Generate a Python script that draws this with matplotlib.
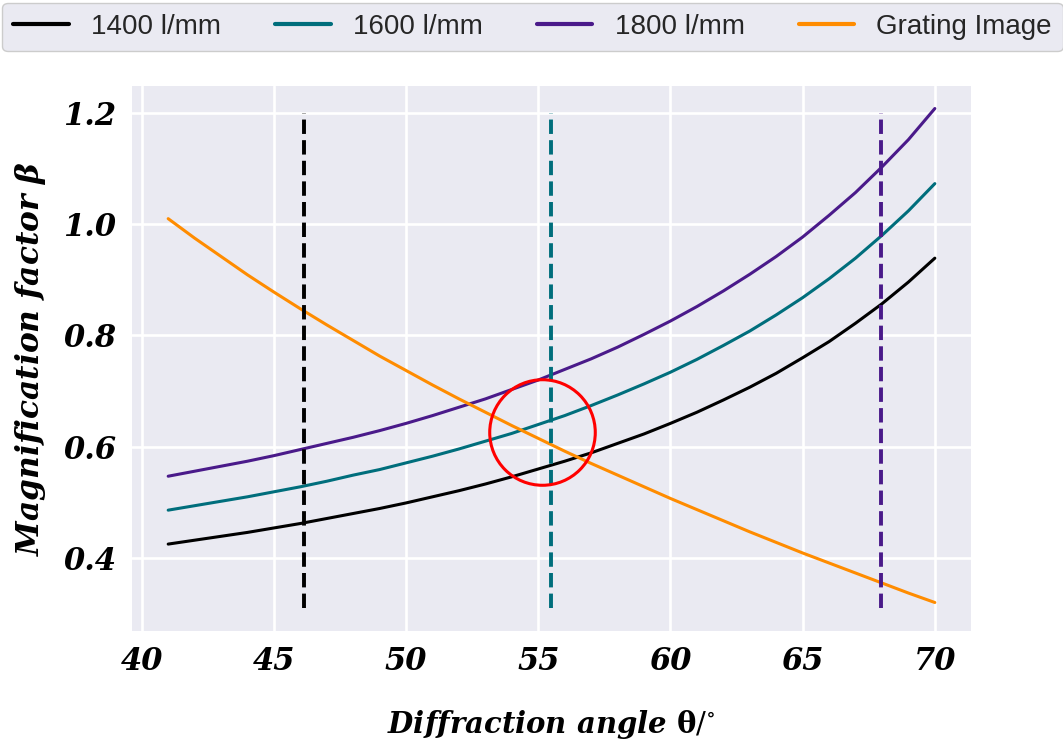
"""Factor de magnificación vs ángulo de difracción para tres redes."""

from __future__ import annotations

import matplotlib

matplotlib.use("Agg")
import matplotlib.pyplot as plt

# ángulos de difracción (grados)
theta = [41, 42, 43, 44, 45, 46, 47, 48, 49, 50,
         51, 52, 53, 54, 55, 56, 57, 58, 59, 60,
         61, 62, 63, 64, 65, 66, 67, 68, 69, 70]

beta_1400 = [0.425, 0.432, 0.439, 0.446, 0.454, 0.462, 0.471, 0.480, 0.489, 0.499,
             0.510, 0.521, 0.533, 0.546, 0.560, 0.574, 0.589, 0.606, 0.623, 0.642,
             0.662, 0.684, 0.707, 0.732, 0.760, 0.789, 0.822, 0.857, 0.896, 0.939]

beta_1600 = [0.486, 0.494, 0.502, 0.510, 0.519, 0.528, 0.538, 0.549, 0.559, 0.571,
             0.583, 0.596, 0.610, 0.624, 0.640, 0.656, 0.674, 0.693, 0.713, 0.734,
             0.757, 0.782, 0.808, 0.837, 0.868, 0.902, 0.939, 0.980, 1.024, 1.073]

beta_1800 = [0.547, 0.556, 0.565, 0.574, 0.584, 0.595, 0.606, 0.617, 0.629, 0.642,
             0.656, 0.671, 0.686, 0.703, 0.720, 0.739, 0.758, 0.779, 0.802, 0.826,
             0.852, 0.880, 0.910, 0.942, 0.977, 1.016, 1.057, 1.103, 1.152, 1.208]

grating_image = [1.010, 0.975, 0.942, 0.909, 0.878, 0.848, 0.819, 0.791, 0.763, 0.737,
                 0.711, 0.686, 0.662, 0.638, 0.615, 0.592, 0.570, 0.549, 0.528, 0.507,
                 0.487, 0.467, 0.447, 0.428, 0.409, 0.391, 0.373, 0.355, 0.337, 0.320]

labels = ["1400 l/mm", "1600 l/mm", "1800 l/mm", "Grating Image"]
colors = ["black", "#006e7c", "#4a1a8a", "#ff8c00"]

# ángulo de operación de cada red (líneas verticales)
theta_op = [46.13, 55.47, 67.95]
vline_span = (0.31, 1.2)

# zona de cruce marcada
cross_x = 55.15
cross_y = 0.626

xticks = [40, 45, 50, 55, 60, 65, 70]
yticks = [0.4, 0.6, 0.8, 1.0, 1.2]


def main() -> None:
    plt.style.use("seaborn-v0_8-darkgrid")
    plt.rcParams["mathtext.fontset"] = "dejavuserif"

    fig, ax = plt.subplots(figsize=(10.63, 7.40), dpi=100)
    fig.subplots_adjust(left=0.1239, right=0.9135, bottom=0.1477, top=0.8838)

    series = [beta_1400, beta_1600, beta_1800, grating_image]
    handles = []
    for ys, lab, col in zip(series, labels, colors):
        (ln,) = ax.plot(theta, ys, color=col, lw=2.2, label=lab)
        handles.append(ln)

    for x0, col in zip(theta_op, colors[:3]):
        ax.vlines(x0, *vline_span, colors=col, linestyles="--", lw=2.8)

    ax.plot(cross_x, cross_y, "o", ms=76, mfc="none", mec="red", mew=2.2)

    ax.set_xlim(39.62, 71.37)
    ax.set_ylim(0.2693, 1.2485)
    ax.set_xticks(xticks)
    ax.set_yticks(yticks)
    ax.grid(True, color="white", lw=1.9)
    ax.set_facecolor("#eaeaf2")

    tick_font = dict(family="DejaVu Serif", weight="bold", style="italic", size=22,
                     color="black")
    ax.set_xticklabels([f"{v}" for v in xticks], fontdict=tick_font)
    ax.set_yticklabels([f"{v:.1f}" for v in yticks], fontdict=tick_font)
    ax.tick_params(axis="both", length=0, pad=11)

    ax.set_xlabel(r"Diffraction angle $\mathbf{\theta}/^{\circ}$",
                  fontdict=dict(family="DejaVu Serif", weight="bold", style="italic",
                                size=21, color="black"),
                  labelpad=22)
    ax.set_ylabel(r"Magnification factor $\boldsymbol{\beta}$",
                  fontdict=dict(family="DejaVu Serif", weight="bold", style="italic",
                                size=22.5, color="black"),
                  labelpad=11)

    leg = fig.legend(
        handles=handles,
        loc="lower left",
        bbox_to_anchor=(0.002, 0.931, 0.998, 0.066),
        mode="expand",
        ncol=4,
        borderaxespad=0.0,
        frameon=True,
        fancybox=True,
        prop={"family": "Liberation Sans", "size": 20},
    )
    frame = leg.get_frame()
    frame.set_facecolor("#eaeaf2")
    frame.set_edgecolor("#cccccc")
    frame.set_alpha(1.0)
    for ln in leg.get_lines():
        ln.set_linewidth(3)

    fig.savefig("out.png", dpi=100)
    plt.close(fig)


if __name__ == "__main__":
    main()
